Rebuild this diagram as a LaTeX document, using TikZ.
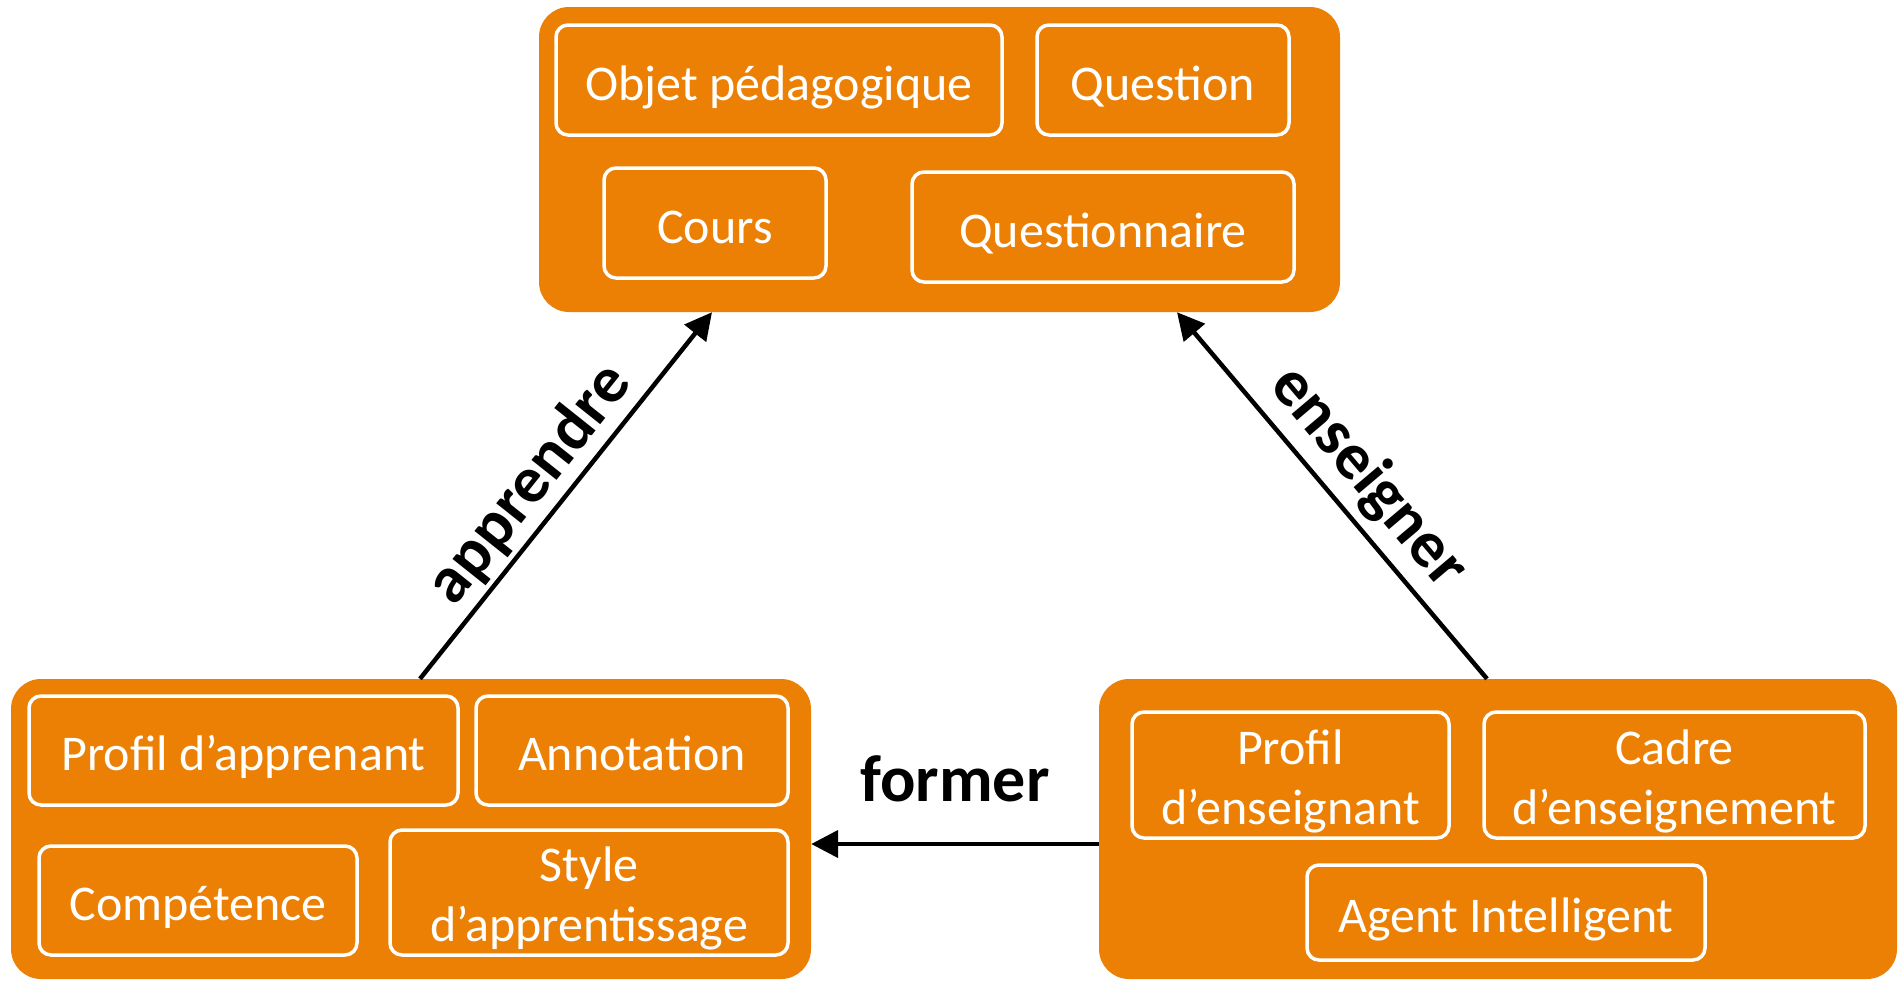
\documentclass[tikz,border=0pt]{standalone}
\usepackage{fontspec}
\setmainfont{Carlito}
\usepackage{xcolor}
\usepackage{tikz}
\usetikzlibrary{positioning, arrows.meta}
\definecolor{orangefonce}{RGB}{235,128,5}

\begin{document}
\begin{tikzpicture}[
    x=1pt, y=-1pt,
    groupe/.style={rectangle, rounded corners=30pt, fill=orangefonce, inner sep=0pt},
    concept/.style={rectangle, rounded corners=12pt, draw=white, line width=3.5pt, text=white,
        align=center, inner sep=0pt, font=\fontsize{50}{60}\selectfont,
        text height=40pt, text depth=0pt},
    deuxlignes/.style={concept, text height=110pt, text depth=12pt},
    relation/.style={-{Triangle[length=27pt, width=27pt]}, line width=4.5pt},
    etiquette/.style={font=\fontsize{66}{72}\selectfont\bfseries}
]
    \useasboundingbox (0,0) rectangle (1898,980);

    % Groupes
    \node[groupe, minimum width=801pt, minimum height=305pt] (objets) at (939.5,159.5) {};
    \node[groupe, minimum width=800pt, minimum height=300pt] (apprenant) at (411,829) {};
    \node[groupe, minimum width=798pt, minimum height=300pt] (enseignant) at (1498,829) {};

    % Objets pedagogiques
    \node[concept, minimum width=446pt, minimum height=110pt] (objet) at (779,80) {Objet pédagogique};
    \node[concept, minimum width=252pt, minimum height=110pt] (question) at (1163,80) {Question};
    \node[concept, minimum width=222pt, minimum height=110pt] (cours) at (715,223) {Cours};
    \node[concept, minimum width=382pt, minimum height=110pt] (questionnaire) at (1103,227) {Questionnaire};

    % Apprenant
    \node[concept, minimum width=429pt, minimum height=109pt] (profilA) at (243.5,750.5) {Profil d’apprenant};
    \node[concept, minimum width=312pt, minimum height=109pt] (annotation) at (632,750.5) {Annotation};
    \node[concept, minimum width=318pt, minimum height=109pt] (competence) at (198,900.5) {Compétence};
    \node[deuxlignes, minimum width=398pt, minimum height=125pt] (styleA) at (589,892.5) {Style\\d’apprentissage};

    % Enseignant
    \node[deuxlignes, minimum width=317pt, minimum height=126pt] (profilE) at (1290.5,775) {Profil\\d’enseignant};
    \node[deuxlignes, minimum width=381pt, minimum height=126pt] (cadre) at (1674.5,775) {Cadre\\d’enseignement};
    \node[concept, minimum width=398pt, minimum height=95pt] (agent) at (1506,912.5) {Agent Intelligent};

    % Relations
    \draw[relation] ([xshift=9pt]apprenant.north) -- node[etiquette, sloped, above=1pt, pos=0.47] {apprendre} ([xshift=-227.5pt]objets.south);
    \draw[relation] ([xshift=-11pt]enseignant.north) -- node[etiquette, sloped, above=5pt, pos=0.48] {enseigner} ([xshift=237.5pt]objets.south);
    \draw[relation] ([yshift=-15pt]enseignant.west) -- node[etiquette, above=36pt] {former} ([yshift=-15pt]apprenant.east);
\end{tikzpicture}
\end{document}
